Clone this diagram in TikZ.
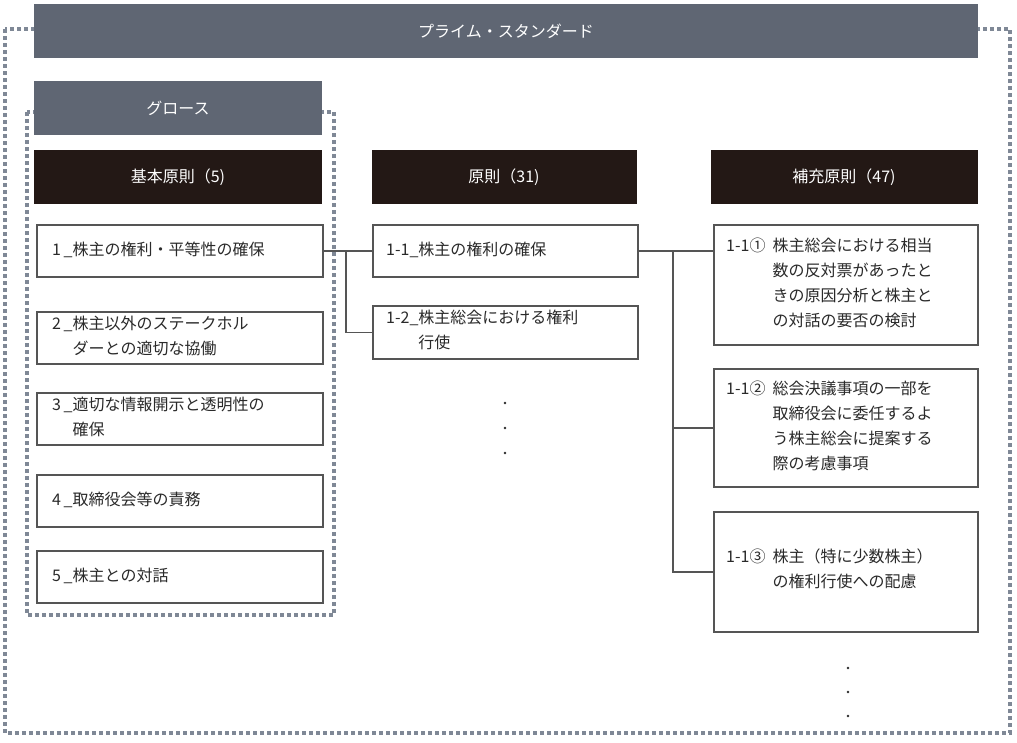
\documentclass[tikz,border=0pt]{standalone}
\usepackage{fontspec}
\setmainfont{Noto Sans CJK JP}
\begin{document}
\begin{tikzpicture}[x=1pt,y=-1pt,
  banner/.style={fill=bannergray,draw=none},
  head/.style={fill=headblack,draw=none},
  box/.style={draw=boxgray,line width=1.6pt,fill=white},
  dotb/.style={draw=dotgray,line width=4pt,dash pattern=on 4pt off 3pt},
  conn/.style={draw=boxgray,line width=1.4pt},
  txt/.style={font=\fontsize{16}{25}\selectfont,text=textgray,anchor=west,inner sep=0pt,align=left},
  wtxt/.style={font=\fontsize{16}{20}\selectfont,text=white,inner sep=0pt}]
\definecolor{bannergray}{HTML}{5F6673}
\definecolor{headblack}{HTML}{231815}
\definecolor{boxgray}{HTML}{555555}
\definecolor{dotgray}{HTML}{7F8896}
\definecolor{textgray}{HTML}{2A2A2A}
\useasboundingbox (0,0) rectangle (1017,742);
% outer dotted
\draw[dotb] (5,29) rectangle (1010,733);
\fill[banner] (34,4) rectangle (978,58);
\node[wtxt] (tb) at (506,31) {プライム・スタンダード};
% inner dotted
\draw[dotb] (27,112) rectangle (334,615);
\fill[banner] (34,81) rectangle (322,135);
\node[wtxt] (gb) at (178,108) {グロース};
% headers
\fill[head] (34,150) rectangle (322,204);
\node[wtxt] (h1) at (178,177) {基本原則（5)};
\fill[head] (372,150) rectangle (637,204);
\node[wtxt] (h2) at (504,177) {原則（31)};
\fill[head] (711,150) rectangle (978,204);
\node[wtxt] (h3) at (844,177) {補充原則（47)};
% left boxes
\node[box,minimum width=286,minimum height=52,anchor=north west] (L1) at (36,224) {};
\node[box,minimum width=286,minimum height=52,anchor=north west] (L2) at (36,311) {};
\node[box,minimum width=286,minimum height=52,anchor=north west] (L3) at (36,392) {};
\node[box,minimum width=286,minimum height=52,anchor=north west] (L4) at (36,474) {};
\node[box,minimum width=286,minimum height=52,anchor=north west] (L5) at (36,550) {};
\node[txt] at (52,250) {1\,\_株主の権利・平等性の確保};
\node[txt] at (52,337) {\begin{tabular}{@{}l@{}l@{}}2\,\_&株主以外のステークホル\\&ダーとの適切な協働\end{tabular}};
\node[txt] at (52,418) {\begin{tabular}{@{}l@{}l@{}}3\,\_&適切な情報開示と透明性の\\&確保\end{tabular}};
\node[txt] at (52,500) {4\,\_取締役会等の責務};
\node[txt] at (52,576) {5\,\_株主との対話};
% middle boxes
\node[box,minimum width=265,minimum height=52,anchor=north west] (M1) at (372,224) {};
\node[box,minimum width=265,minimum height=53,anchor=north west] (M2) at (372,305) {};
\node[txt] at (386,250) {1-1\_株主の権利の確保};
\node[txt] at (386,331) {\begin{tabular}{@{}l@{}l@{}}1-2\_&株主総会における権利\\&行使\end{tabular}};
% right boxes
\node[box,minimum width=264,minimum height=120,anchor=north west] (R1) at (713,224) {};
\node[box,minimum width=264,minimum height=118,anchor=north west] (R2) at (713,368) {};
\node[box,minimum width=264,minimum height=120,anchor=north west] (R3) at (713,511) {};
\node[txt] at (726,284) {\begin{tabular}{@{}l@{\ \ }l@{}}1-1①&株主総会における相当\\&数の反対票があったと\\&きの原因分析と株主と\\&の対話の要否の検討\end{tabular}};
\node[txt] at (726,427) {\begin{tabular}{@{}l@{\ \ }l@{}}1-1②&総会決議事項の一部を\\&取締役会に委任するよ\\&う株主総会に提案する\\&際の考慮事項\end{tabular}};
\node[txt] at (726,570) {\begin{tabular}{@{}l@{\ \ }l@{}}1-1③&株主（特に少数株主）\\&の権利行使への配慮\end{tabular}};
% connectors
\coordinate (j1) at (346,250);
\coordinate (j2) at (673,250);
\draw[conn] (L1.east) -- (M1.west);
\draw[conn] (j1) |- (M2.west);
\draw[conn] (M1.east) -- (R1.west|-M1.east);
\draw[conn] (j2) |- (R2.west);
\draw[conn] (j2) |- (R3.west);
% dots
\foreach \y in {403,428,453} \fill[textgray] (505,\y) circle (1.3);
\foreach \y in {668,692,716} \fill[textgray] (848,\y) circle (1.3);
\end{tikzpicture}
\end{document}
